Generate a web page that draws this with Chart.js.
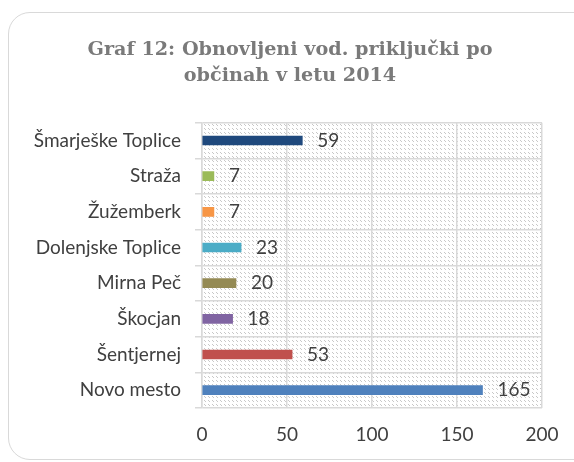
<!DOCTYPE html>
<html>
<head>
<meta charset="utf-8">
<script src="https://cdn.jsdelivr.net/npm/chart.js@4"></script>
<style>
  html, body { margin: 0; padding: 0; background: #fff; }
  #wrap { position: relative; width: 574px; height: 462px; overflow: hidden; }
  #frame {
    position: absolute; left: 8px; top: 12px; width: 620px; height: 448px;
    border: 1.5px solid #d9d9d9; border-radius: 22px; box-sizing: border-box;
  }
  #chart { position: absolute; left: 0; top: 0; }
</style>
</head>
<body>
<div id="wrap">
  <div id="frame"></div>
  <canvas id="chart" width="574" height="462"></canvas>
</div>
<script>
/* DATA */
const titleLines = ["Graf 12: Obnovljeni vod. priključki po", "občinah v letu 2014"];
const municipalities = ["Šmarješke Toplice", "Straža", "Žužemberk", "Dolenjske Toplice",
  "Mirna Peč", "Škocjan", "Šentjernej", "Novo mesto"];
const connections = [59, 7, 7, 23, 20, 18, 53, 165];
const barColors = ["#1f497d", "#9bbb59", "#f79646", "#4bacc6",
  "#948a54", "#8064a2", "#c0504d", "#4f81bd"];
const axisMax = 200;
const axisStep = 50;

const FONT = "Lato";
const TEXT = "#404040";
const GRID = "#d9d9d9";

/* hatched plot background: dashed downward diagonals */
function hatchPattern(ctx) {
  const c = document.createElement("canvas");
  c.width = 8; c.height = 8;
  const p = c.getContext("2d");
  p.fillStyle = "#fff";
  p.fillRect(0, 0, 8, 8);
  p.fillStyle = "#c8c8c8";
  for (let i = 0; i < 8; i++) {
    if (Math.floor(i / 2) % 2) continue;
    p.fillRect(i, i, 1, 1);
    p.fillRect((i + 4) % 8, i, 1, 1);
  }
  return ctx.createPattern(c, "repeat");
}

const plotBackground = {
  id: "plotBackground",
  beforeDraw(chart) {
    const { ctx, chartArea: a } = chart;
    ctx.save();
    ctx.fillStyle = hatchPattern(ctx);
    ctx.fillRect(a.left, a.top, a.right - a.left, a.bottom - a.top);
    ctx.restore();
  }
};

/* title, centred on the frame rather than the canvas */
const frameTitle = {
  id: "frameTitle",
  afterDraw(chart) {
    const { ctx } = chart;
    ctx.save();
    ctx.font = "bold 19.2px 'DejaVu Serif'";
    ctx.fillStyle = "#7a7a7a";
    ctx.textAlign = "center";
    ctx.textBaseline = "middle";
    titleLines.forEach((line, i) => ctx.fillText(line, 290, 50 + i * 26));
    ctx.restore();
  }
};

/* value labels after each bar */
const valueLabels = {
  id: "valueLabels",
  afterDatasetsDraw(chart) {
    const { ctx } = chart;
    const meta = chart.getDatasetMeta(0);
    ctx.save();
    ctx.font = "19px " + FONT;
    ctx.fillStyle = TEXT;
    ctx.textAlign = "left";
    ctx.textBaseline = "middle";
    meta.data.forEach((bar, i) => {
      ctx.fillText(String(connections[i]), bar.x + 15, bar.y);
    });
    ctx.restore();
  }
};

new Chart(document.getElementById("chart"), {
  type: "bar",
  data: {
    labels: municipalities,
    datasets: [{
      data: connections,
      backgroundColor: barColors,
      barThickness: 9
    }]
  },
  options: {
    indexAxis: "y",
    responsive: false,
    animation: false,
    layout: { padding: { left: 0, right: 32, top: 122.7, bottom: 0 } },
    plugins: {
      legend: { display: false },
      tooltip: { enabled: false },
      title: { display: false }
    },
    scales: {
      x: {
        min: 0,
        max: axisMax,
        ticks: { stepSize: axisStep, color: TEXT, font: { family: FONT, size: 19 }, padding: 15 },
        grid: { color: GRID, lineWidth: 1.5, drawTicks: false },
        border: { display: false },
        afterFit(scale) { scale.height = 54; }
      },
      y: {
        ticks: { color: TEXT, font: { family: FONT, size: 19 }, padding: 14 },
        grid: { color: GRID, lineWidth: 1.5, offset: true, tickLength: 7 },
        border: { color: GRID, width: 1.5 },
        afterFit(scale) { scale.width = 202; }
      }
    }
  },
  plugins: [plotBackground, frameTitle, valueLabels]
});
</script>
</body>
</html>
